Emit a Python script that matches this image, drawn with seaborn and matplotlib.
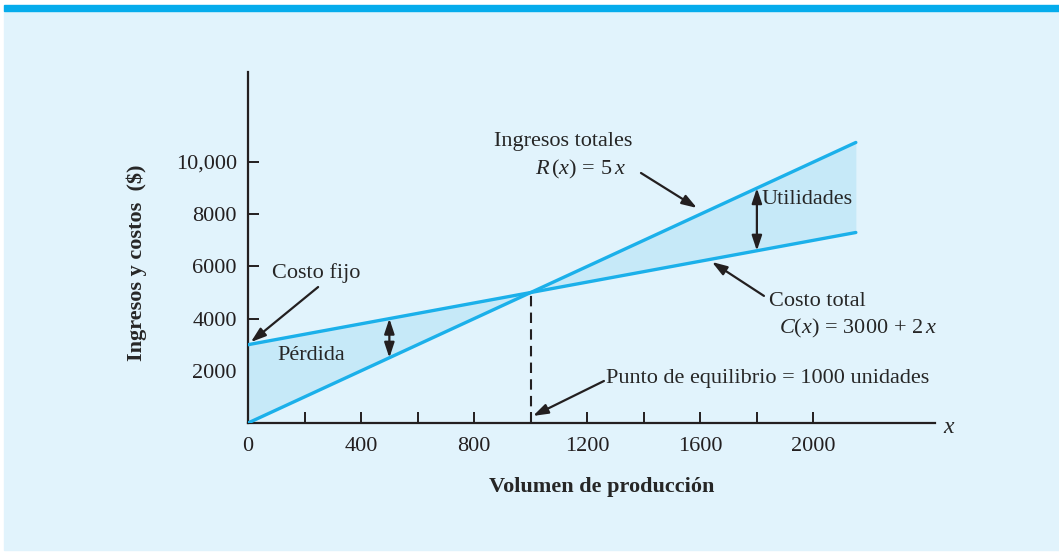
import matplotlib.pyplot as plt
import matplotlib.patches as mpatches
import pandas as pd
import seaborn as sns

# Data
volume = [0, 500, 1000, 1800, 2150]
revenue = [0, 2500, 5000, 9000, 10750]      # R(x) = 5x
cost = [3000, 4000, 5000, 6600, 7300]       # C(x) = 3000 + 2x
breakeven_x = 1000
breakeven_y = 5000
x_ticks = [0, 400, 800, 1200, 1600, 2000]
x_minor = [200, 600, 1000, 1400, 1800]
y_ticks = [2000, 4000, 6000, 8000, 10000]
y_labels = ['2000', '4000', '6000', '8000', '10,000']

df = pd.DataFrame({'volume': volume, 'revenue': revenue, 'cost': cost})

sns.set_style('white')
plt.rcParams['font.family'] = ['Liberation Serif', 'DejaVu Serif']
plt.rcParams['mathtext.fontset'] = 'custom'
plt.rcParams['mathtext.rm'] = 'Liberation Serif'
plt.rcParams['mathtext.it'] = 'Liberation Serif:italic'

line_col = '#1bb0ea'
fill_col = '#c6e9f8'
bg_col = '#e1f3fc'
ink = '#231f20'

fig = plt.figure(figsize=(10.59, 5.55), dpi=100, facecolor='white')
# panel background and top bar (drawn behind the axes)
fig.patches.append(mpatches.Rectangle((4 / 1059, 5 / 555), 1 - 4 / 1059, 1 - 16 / 555,
                                      transform=fig.transFigure, color=bg_col, zorder=-2))
fig.patches.append(mpatches.Rectangle((4 / 1059, 1 - 11 / 555), 1 - 4 / 1059, 6 / 555,
                                      transform=fig.transFigure, color='#05acec', zorder=-1))

ax = fig.add_axes([248 / 1059, 132 / 555, 687 / 1059, 351 / 555])
ax.set_facecolor('none')

ax.fill_between(df['volume'], df['revenue'], df['cost'], color=fill_col, lw=0, zorder=1)
sns.lineplot(data=df, x='volume', y='revenue', ax=ax, color=line_col, lw=2.4, zorder=3)
sns.lineplot(data=df, x='volume', y='cost', ax=ax, color=line_col, lw=2.4, zorder=3)

ax.set_xlim(0, 2430)
ax.set_ylim(0, 13450)
sns.despine(ax=ax)
for s in ['left', 'bottom']:
    ax.spines[s].set_color(ink)
    ax.spines[s].set_linewidth(1.6)

fs = 16
ax.set_xticks(x_ticks)
ax.set_xticks(x_minor, minor=True)
ax.set_yticks(y_ticks)
ax.set_yticklabels(y_labels)
ax.tick_params(axis='both', which='both', direction='in', length=8, width=1.4,
               colors=ink, labelsize=fs, bottom=True, left=True)
ax.tick_params(axis='x', pad=10)
ax.tick_params(axis='y', pad=8)
ax.xaxis.get_major_ticks()[0].tick1line.set_visible(False)

ax.set_xlabel('Volumen de producción', fontsize=fs, fontweight='bold')
ax.set_ylabel('Ingresos y costos  ($)', fontsize=fs, fontweight='bold')
ax.xaxis.set_label_coords(0.515, -0.155)
ax.yaxis.set_label_coords(-0.147, 0.456)
ax.text(2458, -190, 'x', style='italic', fontsize=17, ha='left', va='center')

# dashed breakeven line
ax.plot([breakeven_x, breakeven_x], [0, breakeven_y], color=ink, lw=1.5,
        ls=(0, (5, 3)), zorder=4)

head = '-|>,head_length=0.9,head_width=0.3'
arrow = dict(arrowstyle=head, color=ink, lw=1.6, mutation_scale=10,
             shrinkA=0, shrinkB=0)
darrow = dict(arrowstyle='<|-|>,head_length=0.9,head_width=0.3', color=ink, lw=1.6,
              mutation_scale=10, shrinkA=0, shrinkB=0)

# double-headed arrows for loss and profit
ax.annotate('', xy=(volume[1], cost[1]), xytext=(volume[1], revenue[1]), arrowprops=darrow)
ax.annotate('', xy=(volume[3], revenue[3]), xytext=(volume[3], cost[3]), arrowprops=darrow)

# pointer arrows
ax.annotate('', xy=(10, 3100), xytext=(248, 5210), arrowprops=arrow)
ax.annotate('', xy=(1588, 8240), xytext=(1390, 9580), arrowprops=arrow)
ax.annotate('', xy=(1641, 6170), xytext=(1825, 4870), arrowprops=arrow)
ax.annotate('', xy=(1008, 270), xytext=(1259, 1610), arrowprops=arrow)

ax.text(240, 5760, 'Costo fijo', fontsize=fs, ha='center', va='center')
ax.text(223, 2600, 'Pérdida', fontsize=fs, ha='center', va='center')
ax.text(1815, 8580, 'Utilidades', fontsize=fs, ha='left', va='center')
ax.text(1114, 10770, 'Ingresos totales', fontsize=fs, ha='center', va='center')
ax.text(1337, 9730, '$R\\,(x)\\, =\\, 5\\,x$', fontsize=fs, ha='right', va='center')
ax.text(2013, 4640, 'Costo total', fontsize=fs, ha='center', va='center')
ax.text(2158, 3640, '$C(x)\\, =\\, 3000\\, +\\, 2\\,x$', fontsize=fs, ha='center', va='center')
ax.text(1266, 1720, 'Punto de equilibrio = 1000 unidades', fontsize=fs,
        ha='left', va='center')

fig.savefig('out.png', dpi=100, facecolor='white')
